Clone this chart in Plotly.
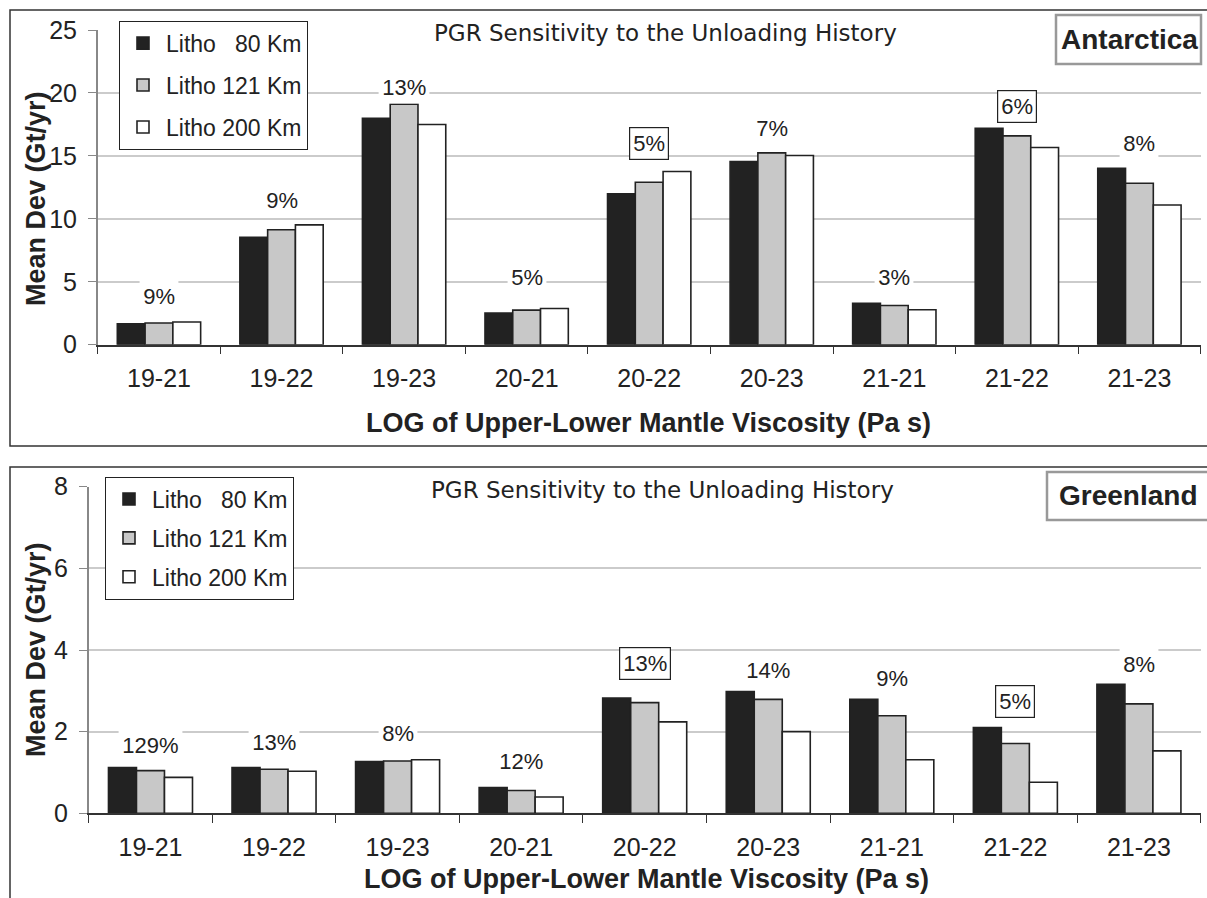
import plotly.graph_objects as go

# ---------------- data ----------------
categories = ["19-21", "19-22", "19-23", "20-21", "20-22", "20-23", "21-21", "21-22", "21-23"]
series_names = ["Litho \u200780 Km", "Litho 121 Km", "Litho 200 Km"]

ant_80 = [1.67, 8.54, 17.99, 2.51, 11.98, 14.55, 3.28, 17.20, 14.02]
ant_121 = [1.72, 9.13, 19.10, 2.75, 12.90, 15.24, 3.12, 16.59, 12.83]
ant_200 = [1.80, 9.52, 17.49, 2.88, 13.76, 15.03, 2.78, 15.66, 11.10]
ant_pct = ["9%", "9%", "13%", "5%", "5%", "7%", "3%", "6%", "8%"]
ant_pct_y = [3.8, 11.45, 20.4, 5.3, 15.95, 17.2, 5.3, 18.9, 15.95]
ant_pct_boxed = [False, False, False, False, True, False, False, True, False]

gre_80 = [1.12, 1.12, 1.27, 0.63, 2.82, 2.98, 2.79, 2.10, 3.16]
gre_121 = [1.045, 1.08, 1.28, 0.56, 2.71, 2.79, 2.39, 1.71, 2.68]
gre_200 = [0.88, 1.03, 1.31, 0.40, 2.24, 2.00, 1.31, 0.76, 1.53]
gre_pct = ["129%", "13%", "8%", "12%", "13%", "14%", "9%", "5%", "8%"]
gre_pct_y = [1.65, 1.74, 1.96, 1.27, 3.67, 3.49, 3.31, 2.73, 3.64]
gre_pct_boxed = [False, False, False, False, True, False, False, True, False]

chart_title = "PGR Sensitivity to the Unloading History"
x_title = "LOG of Upper-Lower Mantle Viscosity (Pa s)"
y_title = "Mean Dev (Gt/yr)"
regions = ["Antarctica", "Greenland"]

# ---------------- styling ----------------
W, H = 1207, 898
FONT = "Liberation Sans, Arial, Helvetica, sans-serif"
TITLE_FONT = "DejaVu Sans, Liberation Sans, sans-serif"
bar_colors = ["#222222", "#c8c8c8", "#ffffff"]
edge = "#222222"
grid = "#cbcbcb"


def px(x):
    return x / W


def py(y):
    return 1 - y / H


fig = go.Figure()

for vals, name, col in zip([ant_80, ant_121, ant_200], series_names, bar_colors):
    fig.add_trace(go.Bar(x=categories, y=vals, name=name, marker=dict(color=col, line=dict(color=edge, width=1.6)),
                         xaxis="x", yaxis="y", legend="legend", legendgroup="a" + name))
for vals, name, col in zip([gre_80, gre_121, gre_200], series_names, bar_colors):
    fig.add_trace(go.Bar(x=categories, y=vals, name=name, marker=dict(color=col, line=dict(color=edge, width=1.6)),
                         xaxis="x2", yaxis="y2", legend="legend2", legendgroup="g" + name))

xaxis_common = dict(type="category", tickson="boundaries", ticks="outside", ticklen=8, tickcolor="#333",
                    showline=True, linecolor="#333", linewidth=1.5, showgrid=False, automargin=False,
                    tickfont=dict(family=FONT, size=25, color="#222"), ticklabelstandoff=11)
yaxis_common = dict(showgrid=True, gridcolor=grid, gridwidth=2, showline=True, linecolor="#888", linewidth=1.5,
                    ticks="outside", ticklen=8, tickcolor="#888", zeroline=False, automargin=False,
                    tickfont=dict(family=FONT, size=25, color="#222"), ticklabelstandoff=6)

annotations = []


def add_labels(xref, yref, ys, texts, boxed):
    for c, yv, t, b in zip(categories, ys, texts, boxed):
        annotations.append(dict(x=c, y=yv, xref=xref, yref=yref, text=t, showarrow=False,
                                xanchor="center", yanchor="middle",
                                font=dict(family=FONT, size=22, color="#222"), bgcolor="white",
                                bordercolor="#222" if b else "rgba(0,0,0,0)", borderwidth=1.2, borderpad=3))


add_labels("x", "y", ant_pct_y, ant_pct, ant_pct_boxed)
add_labels("x2", "y2", gre_pct_y, gre_pct, gre_pct_boxed)

for xc, yc in ((665, 33), (662, 490)):
    annotations.append(dict(x=px(xc), y=py(yc), xref="paper", yref="paper", text=chart_title, showarrow=False,
                            xanchor="center", yanchor="middle", font=dict(family=TITLE_FONT, size=23, color="#222"),
                            bgcolor="white", borderpad=6))

# axis titles
for xc, yc in ((648, 423), (646, 879)):
    annotations.append(dict(x=px(xc), y=py(yc), xref="paper", yref="paper", text="<b>" + x_title + "</b>",
                            xanchor="center", yanchor="middle", showarrow=False,
                            font=dict(family=FONT, size=27, color="#222")))
for yc in (199, 650):
    annotations.append(dict(x=px(36), y=py(yc), xref="paper", yref="paper", text="<b>" + y_title + "</b>",
                            xanchor="center", yanchor="middle", textangle=-90, showarrow=False,
                            font=dict(family=FONT, size=27, color="#222")))

# region labels (text) and their boxes (shapes)
for name, xc, yc in ((regions[0], 1129, 40), (regions[1], 1128, 496)):
    annotations.append(dict(x=px(xc), y=py(yc), xref="paper", yref="paper", text="<b>" + name + "</b>",
                            xanchor="center", yanchor="middle", showarrow=False,
                            font=dict(family=FONT, size=28, color="#222")))

shapes = [
    dict(type="rect", xref="paper", yref="paper", x0=px(10), x1=px(1230), y0=py(10), y1=py(446),
         line=dict(color="#333", width=1.5), layer="below"),
    dict(type="rect", xref="paper", yref="paper", x0=px(10), x1=px(1230), y0=py(467), y1=py(930),
         line=dict(color="#333", width=1.5), layer="below"),
    dict(type="rect", xref="paper", yref="paper", x0=px(1056), x1=px(1201), y0=py(15), y1=py(64),
         line=dict(color="#999", width=2.5), fillcolor="white", layer="above"),
    dict(type="rect", xref="paper", yref="paper", x0=px(1047), x1=px(1230), y0=py(472), y1=py(520),
         line=dict(color="#999", width=2.5), fillcolor="white", layer="above"),
]

legend_common = dict(xanchor="left", yanchor="top", bgcolor="white", bordercolor="#222", borderwidth=1,
                     font=dict(family=FONT, size=23, color="#222"), traceorder="grouped",
                     itemclick=False, itemwidth=36, entrywidth=170, entrywidthmode="pixels")

fig.update_layout(
    width=W, height=H, autosize=False,
    margin=dict(l=0, r=0, t=0, b=0, autoexpand=False),
    paper_bgcolor="white", plot_bgcolor="white",
    barmode="group", bargap=0.32, bargroupgap=0,
    xaxis=dict(domain=[px(97.7), px(1200.7)], anchor="y", **xaxis_common),
    yaxis=dict(domain=[py(344.7), py(30)], anchor="x", range=[0, 25], dtick=5, **yaxis_common),
    xaxis2=dict(domain=[px(88.7), px(1200.7)], anchor="y2", **xaxis_common),
    yaxis2=dict(domain=[py(813.3), py(486.7)], anchor="x2", range=[0, 8], dtick=2, **yaxis_common),
    legend=dict(x=px(119), y=py(20.7), tracegroupgap=9, **legend_common),
    legend2=dict(x=px(105), y=py(476.5), tracegroupgap=6, **legend_common),
    annotations=annotations,
    shapes=shapes,
    showlegend=True,
)

fig.write_html("out.html")
